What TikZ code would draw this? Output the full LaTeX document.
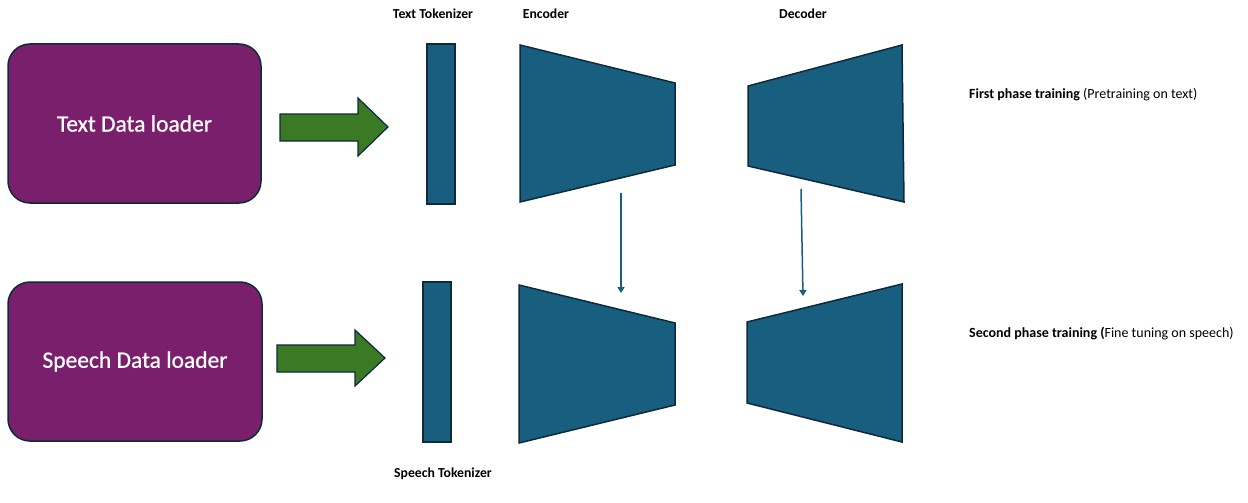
\documentclass[tikz,border=0pt]{standalone}
\usepackage{fontspec}
\setmainfont{Carlito}
\newfontfamily\loaderfont[FakeBold=0.8]{Carlito}
\usetikzlibrary{arrows.meta}
\definecolor{loaderfill}{HTML}{7A1F6B}
\definecolor{blockfill}{HTML}{175E7F}
\definecolor{greenfill}{HTML}{3B7A25}
\definecolor{edge}{HTML}{0E2A3A}
\begin{document}
\begin{tikzpicture}[x=1pt,y=-1pt,
  loader/.style={draw=edge, line width=1.5pt, fill=loaderfill, rounded corners=22pt, text=white, font=\loaderfont\fontsize{23.5}{27}\selectfont, inner sep=0pt},
  tok/.style={draw=edge, line width=1.5pt, fill=blockfill, minimum width=28pt, minimum height=160pt, inner sep=0pt},
  block/.style={draw=edge, line width=1.5pt, fill=blockfill, line join=miter},
  bigarrow/.style={draw=edge, line width=1.2pt, fill=greenfill, line join=miter},
  varrow/.style={draw=blockfill, line width=1.5pt, -{Triangle[length=6pt,width=7pt]}},
  lab/.style={font=\bfseries\fontsize{13.7}{16}\selectfont, inner sep=0pt},
  phase/.style={font=\fontsize{14}{16}\selectfont, inner sep=0pt, anchor=west}]
\useasboundingbox (0,0) rectangle (1248,503);
% loaders
\node[loader, minimum width=253pt, minimum height=159pt] (tdl) at (134.5,123.5) {\raisebox{-6pt}{Text Data loader}\hspace{12pt}};
\node[loader, minimum width=254pt, minimum height=159pt] (sdl) at (135,361.5) {\raisebox{-6pt}{Speech Data loader}\hspace{10pt}};
% green block arrows
\draw[bigarrow] (280,114) -- (358,114) -- (358,98) -- (388,127) -- (358,156) -- (358,141) -- (280,141) -- cycle;
\draw[bigarrow] (277,345) -- (355,345) -- (355,330) -- (385,358) -- (355,386) -- (355,372) -- (277,372) -- cycle;
% tokenizers
\node[tok] (ttok) at (441,124) {};
\node[tok] (stok) at (437,362) {};
% encoders and decoders
\draw[block] (520,45) -- (675,83) -- (675,165) -- (520,202) -- cycle;
\draw[block] (748,86) -- (902,45) -- (904,202) -- (748,166) -- cycle;
\draw[block] (519,285) -- (675,323) -- (675,405) -- (519,443) -- cycle;
\draw[block] (747,322) -- (902,284) -- (902,442) -- (747,403) -- cycle;
% transfer arrows
\coordinate (e1) at (621,193);
\coordinate (e2) at (621,293);
\coordinate (d1) at (801,189);
\coordinate (d2) at (803,296);
\draw[varrow] (e1) -- (e2);
\draw[varrow] (d1) -- (d2);
% labels
\node[lab] (ttl) at (433,14) {Text Tokenizer};
\node[lab] (encl) at (546,14) {Encoder};
\node[lab] (decl) at (803,14) {Decoder};
\node[lab] (stl) at (443,474) {Speech Tokenizer};
\node[phase] (p1) at (969,95) {\textbf{First phase training} (Pretraining on text)};
\node[phase] (p2) at (969,334) {\textbf{Second phase training (}Fine tuning on speech)};
\end{tikzpicture}
\end{document}
